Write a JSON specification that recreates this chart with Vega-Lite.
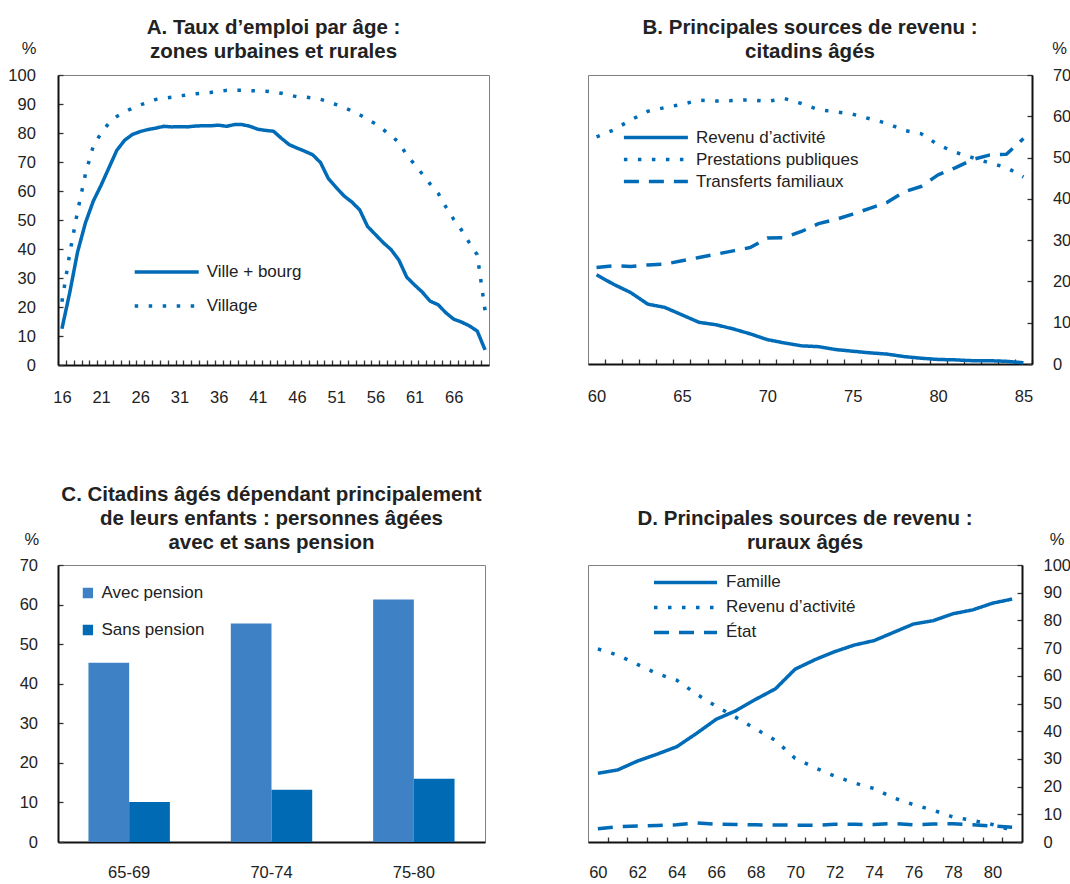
{
  "$schema": "https://vega.github.io/schema/vega-lite/v6.json",
  "background": "white",
  "padding": {"left": 7, "top": 17, "right": 0, "bottom": 0},
  "datasets": {
    "emploi": [
      {"age":16,"zone":"Ville + bourg","taux":12.5},{"age":17,"zone":"Ville + bourg","taux":25},{"age":18,"zone":"Ville + bourg","taux":39},{"age":19,"zone":"Ville + bourg","taux":49},{"age":20,"zone":"Ville + bourg","taux":56.5},
      {"age":21,"zone":"Ville + bourg","taux":62},{"age":22,"zone":"Ville + bourg","taux":68},{"age":23,"zone":"Ville + bourg","taux":74},{"age":24,"zone":"Ville + bourg","taux":77.5},{"age":25,"zone":"Ville + bourg","taux":79.5},
      {"age":26,"zone":"Ville + bourg","taux":80.5},{"age":27,"zone":"Ville + bourg","taux":81.2},{"age":28,"zone":"Ville + bourg","taux":81.7},{"age":29,"zone":"Ville + bourg","taux":82.3},{"age":30,"zone":"Ville + bourg","taux":82.1},
      {"age":31,"zone":"Ville + bourg","taux":82.2},{"age":32,"zone":"Ville + bourg","taux":82.1},{"age":33,"zone":"Ville + bourg","taux":82.4},{"age":34,"zone":"Ville + bourg","taux":82.5},{"age":35,"zone":"Ville + bourg","taux":82.5},
      {"age":36,"zone":"Ville + bourg","taux":82.7},{"age":37,"zone":"Ville + bourg","taux":82.3},{"age":38,"zone":"Ville + bourg","taux":82.9},{"age":39,"zone":"Ville + bourg","taux":82.9},{"age":40,"zone":"Ville + bourg","taux":82.3},
      {"age":41,"zone":"Ville + bourg","taux":81.3},{"age":42,"zone":"Ville + bourg","taux":80.9},{"age":43,"zone":"Ville + bourg","taux":80.6},{"age":44,"zone":"Ville + bourg","taux":78.2},{"age":45,"zone":"Ville + bourg","taux":76},
      {"age":46,"zone":"Ville + bourg","taux":74.8},{"age":47,"zone":"Ville + bourg","taux":73.7},{"age":48,"zone":"Ville + bourg","taux":72.5},{"age":49,"zone":"Ville + bourg","taux":69.8},{"age":50,"zone":"Ville + bourg","taux":64.3},
      {"age":51,"zone":"Ville + bourg","taux":61.2},{"age":52,"zone":"Ville + bourg","taux":58.3},{"age":53,"zone":"Ville + bourg","taux":56.2},{"age":54,"zone":"Ville + bourg","taux":53.5},{"age":55,"zone":"Ville + bourg","taux":47.8},
      {"age":56,"zone":"Ville + bourg","taux":45},{"age":57,"zone":"Ville + bourg","taux":42.2},{"age":58,"zone":"Ville + bourg","taux":39.8},{"age":59,"zone":"Ville + bourg","taux":36.2},{"age":60,"zone":"Ville + bourg","taux":30.3},
      {"age":61,"zone":"Ville + bourg","taux":27.6},{"age":62,"zone":"Ville + bourg","taux":25.1},{"age":63,"zone":"Ville + bourg","taux":22},{"age":64,"zone":"Ville + bourg","taux":20.8},{"age":65,"zone":"Ville + bourg","taux":18},
      {"age":66,"zone":"Ville + bourg","taux":15.8},{"age":67,"zone":"Ville + bourg","taux":14.8},{"age":68,"zone":"Ville + bourg","taux":13.5},{"age":69,"zone":"Ville + bourg","taux":11.7},{"age":70,"zone":"Ville + bourg","taux":5.2},
      {"age":16,"zone":"Village","taux":21.8},{"age":17,"zone":"Village","taux":38.5},{"age":18,"zone":"Village","taux":53},{"age":19,"zone":"Village","taux":65.8},{"age":20,"zone":"Village","taux":75.5},
      {"age":21,"zone":"Village","taux":80},{"age":22,"zone":"Village","taux":83.4},{"age":23,"zone":"Village","taux":85.7},{"age":24,"zone":"Village","taux":87.2},{"age":25,"zone":"Village","taux":88.6},
      {"age":26,"zone":"Village","taux":89.7},{"age":27,"zone":"Village","taux":90.6},{"age":28,"zone":"Village","taux":91.6},{"age":29,"zone":"Village","taux":92},{"age":30,"zone":"Village","taux":92.3},
      {"age":31,"zone":"Village","taux":92.8},{"age":32,"zone":"Village","taux":93.1},{"age":33,"zone":"Village","taux":93.5},{"age":34,"zone":"Village","taux":93.8},{"age":35,"zone":"Village","taux":94},
      {"age":36,"zone":"Village","taux":94.4},{"age":37,"zone":"Village","taux":94.7},{"age":38,"zone":"Village","taux":94.7},{"age":39,"zone":"Village","taux":94.7},{"age":40,"zone":"Village","taux":94.6},
      {"age":41,"zone":"Village","taux":94.5},{"age":42,"zone":"Village","taux":94.4},{"age":43,"zone":"Village","taux":94.1},{"age":44,"zone":"Village","taux":93.7},{"age":45,"zone":"Village","taux":93.1},
      {"age":46,"zone":"Village","taux":92.5},{"age":47,"zone":"Village","taux":92.4},{"age":48,"zone":"Village","taux":92},{"age":49,"zone":"Village","taux":91.6},{"age":50,"zone":"Village","taux":90.8},
      {"age":51,"zone":"Village","taux":89.8},{"age":52,"zone":"Village","taux":88.8},{"age":53,"zone":"Village","taux":87.6},{"age":54,"zone":"Village","taux":86.3},{"age":55,"zone":"Village","taux":84.7},
      {"age":56,"zone":"Village","taux":83.2},{"age":57,"zone":"Village","taux":81.2},{"age":58,"zone":"Village","taux":79},{"age":59,"zone":"Village","taux":76.8},{"age":60,"zone":"Village","taux":72.4},
      {"age":61,"zone":"Village","taux":69.2},{"age":62,"zone":"Village","taux":65.8},{"age":63,"zone":"Village","taux":62.4},{"age":64,"zone":"Village","taux":59.3},{"age":65,"zone":"Village","taux":54.5},
      {"age":66,"zone":"Village","taux":50.2},{"age":67,"zone":"Village","taux":46.5},{"age":68,"zone":"Village","taux":42.1},{"age":69,"zone":"Village","taux":38},{"age":70,"zone":"Village","taux":18.8}
    ],
    "urbain": [
      {"an":60,"source":"Revenu d’activité","part":21.6},{"an":61,"source":"Revenu d’activité","part":19.3},{"an":62,"source":"Revenu d’activité","part":17.3},{"an":63,"source":"Revenu d’activité","part":14.5},{"an":64,"source":"Revenu d’activité","part":13.7},
      {"an":65,"source":"Revenu d’activité","part":11.9},{"an":66,"source":"Revenu d’activité","part":10.1},{"an":67,"source":"Revenu d’activité","part":9.5},{"an":68,"source":"Revenu d’activité","part":8.5},{"an":69,"source":"Revenu d’activité","part":7.3},
      {"an":70,"source":"Revenu d’activité","part":5.9},{"an":71,"source":"Revenu d’activité","part":5.1},{"an":72,"source":"Revenu d’activité","part":4.4},{"an":73,"source":"Revenu d’activité","part":4.2},{"an":74,"source":"Revenu d’activité","part":3.5},
      {"an":75,"source":"Revenu d’activité","part":3.1},{"an":76,"source":"Revenu d’activité","part":2.7},{"an":77,"source":"Revenu d’activité","part":2.4},{"an":78,"source":"Revenu d’activité","part":1.8},{"an":79,"source":"Revenu d’activité","part":1.4},
      {"an":80,"source":"Revenu d’activité","part":1.1},{"an":81,"source":"Revenu d’activité","part":1.0},{"an":82,"source":"Revenu d’activité","part":0.8},{"an":83,"source":"Revenu d’activité","part":0.8},{"an":84,"source":"Revenu d’activité","part":0.65},{"an":85,"source":"Revenu d’activité","part":0.3},
      {"an":60,"source":"Prestations publiques","part":55},{"an":61,"source":"Prestations publiques","part":56.7},{"an":62,"source":"Prestations publiques","part":59.1},{"an":63,"source":"Prestations publiques","part":61.2},{"an":64,"source":"Prestations publiques","part":62.1},
      {"an":65,"source":"Prestations publiques","part":62.9},{"an":66,"source":"Prestations publiques","part":63.9},{"an":67,"source":"Prestations publiques","part":63.7},{"an":68,"source":"Prestations publiques","part":63.8},{"an":69,"source":"Prestations publiques","part":64},
      {"an":70,"source":"Prestations publiques","part":63.6},{"an":71,"source":"Prestations publiques","part":64.3},{"an":72,"source":"Prestations publiques","part":63.1},{"an":73,"source":"Prestations publiques","part":61.6},{"an":74,"source":"Prestations publiques","part":61.1},
      {"an":75,"source":"Prestations publiques","part":60.5},{"an":76,"source":"Prestations publiques","part":59.4},{"an":77,"source":"Prestations publiques","part":58.3},{"an":78,"source":"Prestations publiques","part":56.6},{"an":79,"source":"Prestations publiques","part":55.8},
      {"an":80,"source":"Prestations publiques","part":53.1},{"an":81,"source":"Prestations publiques","part":51.3},{"an":82,"source":"Prestations publiques","part":50},{"an":83,"source":"Prestations publiques","part":48.7},{"an":84,"source":"Prestations publiques","part":47.6},{"an":85,"source":"Prestations publiques","part":45.3},
      {"an":60,"source":"Transferts familiaux","part":23.4},{"an":61,"source":"Transferts familiaux","part":23.8},{"an":62,"source":"Transferts familiaux","part":23.6},{"an":63,"source":"Transferts familiaux","part":24},{"an":64,"source":"Transferts familiaux","part":24.2},
      {"an":65,"source":"Transferts familiaux","part":25},{"an":66,"source":"Transferts familiaux","part":25.8},{"an":67,"source":"Transferts familiaux","part":26.6},{"an":68,"source":"Transferts familiaux","part":27.4},{"an":69,"source":"Transferts familiaux","part":28.2},
      {"an":70,"source":"Transferts familiaux","part":30.5},{"an":71,"source":"Transferts familiaux","part":30.6},{"an":72,"source":"Transferts familiaux","part":32.1},{"an":73,"source":"Transferts familiaux","part":34},{"an":74,"source":"Transferts familiaux","part":35},
      {"an":75,"source":"Transferts familiaux","part":36.3},{"an":76,"source":"Transferts familiaux","part":37.7},{"an":77,"source":"Transferts familiaux","part":39.1},{"an":78,"source":"Transferts familiaux","part":41.7},{"an":79,"source":"Transferts familiaux","part":43},
      {"an":80,"source":"Transferts familiaux","part":45.8},{"an":81,"source":"Transferts familiaux","part":47.5},{"an":82,"source":"Transferts familiaux","part":49.5},{"an":83,"source":"Transferts familiaux","part":50.6},{"an":84,"source":"Transferts familiaux","part":50.8},{"an":85,"source":"Transferts familiaux","part":54.6}
    ],
    "enfants": [
      {"groupe":"65-69","pension":"Avec pension","part":45.3},{"groupe":"65-69","pension":"Sans pension","part":10.1},
      {"groupe":"70-74","pension":"Avec pension","part":55.2},{"groupe":"70-74","pension":"Sans pension","part":13.2},
      {"groupe":"75-80","pension":"Avec pension","part":61.3},{"groupe":"75-80","pension":"Sans pension","part":16.0}
    ],
    "rural": [
      {"an":60,"source2":"Famille","part":24.8},{"an":61,"source2":"Famille","part":26},{"an":62,"source2":"Famille","part":29.2},{"an":63,"source2":"Famille","part":31.7},{"an":64,"source2":"Famille","part":34.4},
      {"an":65,"source2":"Famille","part":39.2},{"an":66,"source2":"Famille","part":44.3},{"an":67,"source2":"Famille","part":47.4},{"an":68,"source2":"Famille","part":51.5},{"an":69,"source2":"Famille","part":55.3},
      {"an":70,"source2":"Famille","part":62.4},{"an":71,"source2":"Famille","part":65.8},{"an":72,"source2":"Famille","part":68.7},{"an":73,"source2":"Famille","part":71.1},{"an":74,"source2":"Famille","part":72.7},
      {"an":75,"source2":"Famille","part":75.7},{"an":76,"source2":"Famille","part":78.7},{"an":77,"source2":"Famille","part":79.9},{"an":78,"source2":"Famille","part":82.4},{"an":79,"source2":"Famille","part":83.8},{"an":80,"source2":"Famille","part":86.2},{"an":81,"source2":"Famille","part":87.7},
      {"an":60,"source2":"Revenu d’activité","part":69.7},{"an":61,"source2":"Revenu d’activité","part":67.5},{"an":62,"source2":"Revenu d’activité","part":64.1},{"an":63,"source2":"Revenu d’activité","part":60.8},{"an":64,"source2":"Revenu d’activité","part":58.4},
      {"an":65,"source2":"Revenu d’activité","part":53.4},{"an":66,"source2":"Revenu d’activité","part":49},{"an":67,"source2":"Revenu d’activité","part":45},{"an":68,"source2":"Revenu d’activité","part":40.8},{"an":69,"source2":"Revenu d’activité","part":36.7},
      {"an":70,"source2":"Revenu d’activité","part":30.2},{"an":71,"source2":"Revenu d’activité","part":26.8},{"an":72,"source2":"Revenu d’activité","part":23.8},{"an":73,"source2":"Revenu d’activité","part":21.3},{"an":74,"source2":"Revenu d’activité","part":19.3},
      {"an":75,"source2":"Revenu d’activité","part":15.9},{"an":76,"source2":"Revenu d’activité","part":13.5},{"an":77,"source2":"Revenu d’activité","part":11.5},{"an":78,"source2":"Revenu d’activité","part":9.0},{"an":79,"source2":"Revenu d’activité","part":7.8},{"an":80,"source2":"Revenu d’activité","part":6.3},{"an":81,"source2":"Revenu d’activité","part":4.2},
      {"an":60,"source2":"État","part":4.8},{"an":61,"source2":"État","part":5.5},{"an":62,"source2":"État","part":5.8},{"an":63,"source2":"État","part":6.0},{"an":64,"source2":"État","part":6.2},
      {"an":65,"source2":"État","part":6.9},{"an":66,"source2":"État","part":6.4},{"an":67,"source2":"État","part":6.3},{"an":68,"source2":"État","part":6.2},{"an":69,"source2":"État","part":6.1},
      {"an":70,"source2":"État","part":6.1},{"an":71,"source2":"État","part":6.0},{"an":72,"source2":"État","part":6.4},{"an":73,"source2":"État","part":6.4},{"an":74,"source2":"État","part":6.3},
      {"an":75,"source2":"État","part":6.7},{"an":76,"source2":"État","part":6.2},{"an":77,"source2":"État","part":6.5},{"an":78,"source2":"État","part":6.6},{"an":79,"source2":"État","part":6.2},{"an":80,"source2":"État","part":5.8},{"an":81,"source2":"État","part":5.3}
    ]
  },
  "columns": 2,
  "align": "each",
  "spacing": {"row": 78, "column": 96},
  "resolve": {
    "scale": {"strokeDash": "independent", "color": "independent", "x": "independent", "y": "independent"},
    "legend": {"strokeDash": "independent", "color": "independent"}
  },
  "concat": [
    {
      "title": {"text": ["A. Taux d’emploi par âge :", "zones urbaines et rurales"]},
      "width": 431, "height": 290,
      "data": {"name": "emploi"},
      "mark": {"type": "line", "color": "#006BB6", "strokeWidth": 3.5, "strokeJoin": "round"},
      "encoding": {
        "x": {"field": "age", "type": "quantitative",
          "scale": {"domain": [15.5, 70.5], "nice": false, "zero": false},
          "axis": {"title": null, "values": [16,17,18,19,20,21,22,23,24,25,26,27,28,29,30,31,32,33,34,35,36,37,38,39,40,41,42,43,44,45,46,47,48,49,50,51,52,53,54,55,56,57,58,59,60,61,62,63,64,65,66,67,68,69],
            "tickOffset": 3.92, "labelOffset": -3.92, "labelExpr": "(datum.value - 16) % 5 === 0 ? datum.label : ''", "labelPadding": 29}},
        "y": {"field": "taux", "type": "quantitative",
          "scale": {"domain": [0, 100], "nice": false},
          "axis": {"title": "%", "values": [0,10,20,30,40,50,60,70,80,90,100], "titleX": -29.4, "titleY": -26.5, "labelPadding": 27.6}},
        "strokeDash": {"field": "zone", "type": "nominal",
          "scale": {"domain": ["Ville + bourg", "Village"], "range": [[1, 0], [3.5, 10.5]]},
          "legend": {"title": null, "orient": "none", "legendX": 74.7, "legendY": 187, "symbolType": "stroke", "symbolSize": 4096, "symbolStrokeWidth": 3.5, "symbolStrokeColor": "#006BB6", "clipHeight": 20, "rowPadding": 14, "labelOffset": 6}}
      }
    },
    {
      "title": {"text": ["B. Principales sources de revenu :", "citadins âgés"]},
      "width": 444, "height": 289,
      "data": {"name": "urbain"},
      "mark": {"type": "line", "color": "#006BB6", "strokeWidth": 3.5, "strokeJoin": "round"},
      "encoding": {
        "x": {"field": "an", "type": "quantitative",
          "scale": {"domain": [59.5, 85.5], "nice": false, "zero": false},
          "axis": {"title": null, "values": [60,61,62,63,64,65,66,67,68,69,70,71,72,73,74,75,76,77,78,79,80,81,82,83,84,85],
            "tickOffset": 8.54, "labelOffset": -8.54, "labelExpr": "datum.value % 5 === 0 ? datum.label : ''", "labelPadding": 29}},
        "y": {"field": "part", "type": "quantitative",
          "scale": {"domain": [0, 70], "nice": false},
          "axis": {"orient": "right", "title": "%", "values": [0,10,20,30,40,50,60,70], "titleX": 27.2, "titleY": -26.5, "labelPadding": 25.4}},
        "strokeDash": {"field": "source", "type": "nominal",
          "scale": {"domain": ["Revenu d’activité", "Prestations publiques", "Transferts familiaux"], "range": [[1, 0], [3.5, 10.5], [15, 10]]},
          "legend": {"title": null, "orient": "none", "legendX": 33.9, "legendY": 52.6, "symbolType": "stroke", "symbolSize": 4096, "symbolStrokeWidth": 3.5, "symbolStrokeColor": "#006BB6", "clipHeight": 20, "rowPadding": 2, "labelOffset": 6}}
      }
    },
    {
      "title": {"text": ["C. Citadins âgés dépendant principalement", "de leurs enfants : personnes âgées", "avec et sans pension"]},
      "width": 427, "height": 277,
      "data": {"name": "enfants"},
      "mark": {"type": "bar"},
      "encoding": {
        "x": {"field": "groupe", "type": "nominal", "sort": ["65-69", "70-74", "75-80"],
          "scale": {"paddingInner": 0.428, "paddingOuter": 0.214},
          "axis": {"title": null, "ticks": false, "labelAngle": 0, "labelPadding": 22}},
        "xOffset": {"field": "pension", "type": "nominal", "sort": ["Avec pension", "Sans pension"]},
        "y": {"field": "part", "type": "quantitative",
          "scale": {"domain": [0, 70], "nice": false},
          "axis": {"title": "%", "values": [0,10,20,30,40,50,60,70], "titleX": -26.7, "titleY": -25.6, "labelPadding": 25.5}},
        "color": {"field": "pension", "type": "nominal",
          "scale": {"domain": ["Avec pension", "Sans pension"], "range": ["#3E82C5", "#006AB4"]},
          "legend": {"title": null, "orient": "none", "legendX": 21.4, "legendY": 18, "symbolType": "square", "symbolSize": 106, "symbolStrokeWidth": 0, "clipHeight": 20, "rowPadding": 17, "labelOffset": 5}}
      }
    },
    {
      "title": {"text": ["D. Principales sources de revenu :", "ruraux âgés"]},
      "width": 434, "height": 277,
      "data": {"name": "rural"},
      "mark": {"type": "line", "color": "#006BB6", "strokeWidth": 3.5, "strokeJoin": "round"},
      "encoding": {
        "x": {"field": "an", "type": "quantitative",
          "scale": {"domain": [59.5, 81.5], "nice": false, "zero": false},
          "axis": {"title": null, "values": [60,61,62,63,64,65,66,67,68,69,70,71,72,73,74,75,76,77,78,79,80],
            "tickOffset": 9.86, "labelOffset": -9.86, "labelExpr": "datum.value % 2 === 0 ? datum.label : ''", "labelPadding": 27}},
        "y": {"field": "part", "type": "quantitative",
          "scale": {"domain": [0, 100], "nice": false},
          "axis": {"orient": "right", "title": "%", "values": [0,10,20,30,40,50,60,70,80,90,100], "titleX": 34.5, "titleY": -25.6, "labelPadding": 26}},
        "strokeDash": {"field": "source2", "type": "nominal",
          "scale": {"domain": ["Famille", "Revenu d’activité", "État"], "range": [[1, 0], [3.5, 10.5], [15, 10]]},
          "legend": {"title": null, "orient": "none", "legendX": 64, "legendY": 7.4, "symbolType": "stroke", "symbolSize": 3969, "symbolStrokeWidth": 3.5, "symbolStrokeColor": "#006BB6", "clipHeight": 20, "rowPadding": 5, "labelOffset": 7}}
      }
    }
  ],
  "config": {
    "view": {"stroke": "#808080", "strokeWidth": 1},
    "font": "Liberation Sans",
    "axis": {"domainColor": "#111111", "domainWidth": 2, "tickColor": "#333333", "tickWidth": 1.3, "tickSize": -5,
      "labelFont": "Liberation Sans", "labelFontSize": 16.5, "labelColor": "#222222", "grid": false,
      "labelFlush": false, "labelOverlap": false, "labelBound": false,
      "titleFont": "Liberation Sans", "titleFontSize": 16.5, "titleFontWeight": "normal", "titleColor": "#222222",
      "titleAngle": 0, "titleAlign": "center", "titleBaseline": "middle"},
    "title": {"font": "Liberation Sans", "fontSize": 20.5, "fontWeight": "bold", "color": "#222222", "anchor": "middle", "lineHeight": 24, "offset": -22},
    "legend": {"labelFont": "Liberation Sans", "labelFontSize": 17, "labelColor": "#222222", "padding": 0, "labelLimit": 400}
  }
}
